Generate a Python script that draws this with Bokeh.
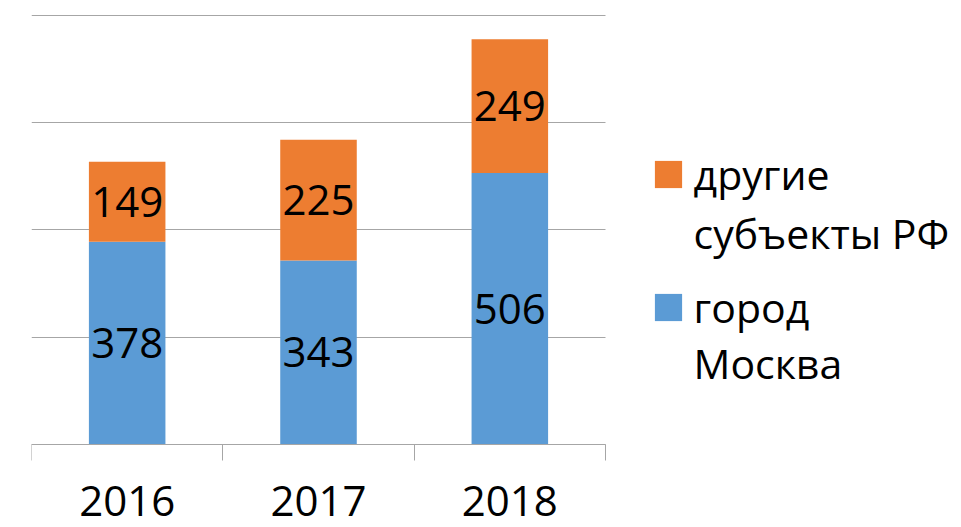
from bokeh.plotting import figure
from bokeh.models import (ColumnDataSource, FixedTicker, Legend, LegendItem,
                          LabelSet, Label, Range1d)
from bokeh.core.properties import value
from bokeh.embed import file_html
from bokeh.resources import INLINE

# ---- data ----
years = ["2016", "2017", "2018"]
moscow = [378, 343, 506]
other = [149, 225, 249]
series_first = ["другие", "город"]
series_second = ["субъекты РФ", "Москва"]
y_ticks = [0, 200, 400, 600, 800]

BLUE = "#5B9BD5"
ORANGE = "#ED7D31"
GRID = "#A6A6A6"
FONT = "Open Sans"
FS = "42px"
LFS = "41px"

n = len(years)
x = [i + 0.5 for i in range(n)]
src = ColumnDataSource(dict(
    x=x, moscow=moscow, other=other,
    m_mid=[m / 2 for m in moscow],
    o_mid=[m + o / 2 for m, o in zip(moscow, other)],
    m_txt=[str(v) for v in moscow],
    o_txt=[str(v) for v in other],
))

# ---- layout (pixels) ----
W, H = 961, 527
left_border = 31
frame_w_data = 574          # width of the category area
frame_top = 10
y_top_px, y_zero_px = 14.7, 444.0
ppu = (y_zero_px - y_top_px) / 800.0
y_end = 800 + (y_top_px - frame_top) / ppu
y_start = -(H - y_zero_px) / ppu
x_end = n * (W - left_border) / frame_w_data

p = figure(width=W, height=H, output_backend="svg", toolbar_location=None,
           x_range=Range1d(0, x_end), y_range=Range1d(y_start, y_end),
           min_border_left=left_border, min_border_top=frame_top,
           min_border_right=0, min_border_bottom=0)
p.outline_line_color = None
p.background_fill_color = "white"

rs = p.vbar_stack(["moscow", "other"], x="x", width=0.4, color=[BLUE, ORANGE],
                  line_color=None, source=src)

for ycol, tcol in (("m_mid", "m_txt"), ("o_mid", "o_txt")):
    p.add_layout(LabelSet(x="x", y=ycol, text=tcol, source=src,
                          text_align="center", text_baseline="middle",
                          text_font=value(FONT), text_font_size=FS,
                          text_color="black"))

# y axis / grid
p.yaxis.visible = False
p.ygrid.ticker = FixedTicker(ticks=y_ticks)
p.ygrid.grid_line_color = GRID
p.ygrid.grid_line_width = 1
p.ygrid.cross_bounds = (0, n)
p.xgrid.visible = False

# x axis
xa = p.xaxis[0]
xa.fixed_location = 0
xa.bounds = (0, n)
xa.ticker = FixedTicker(ticks=x, minor_ticks=list(range(n + 1)))
xa.major_label_overrides = {xi: yr for xi, yr in zip(x, years)}
xa.major_tick_out = 0
xa.major_tick_in = 0
xa.minor_tick_out = 16
xa.minor_tick_in = 0
xa.minor_tick_line_color = GRID
xa.axis_line_color = GRID
xa.major_label_standoff = 25
xa.major_label_text_font = FONT
xa.major_label_text_font_size = FS
xa.major_label_text_color = "black"

# legend (first lines with glyphs) + second lines as labels
legend = Legend(items=[LegendItem(label=series_first[0], renderers=[rs[1]]),
                       LegendItem(label=series_first[1], renderers=[rs[0]])],
                location=(619.6, 192.5), orientation="vertical",
                border_line_color=None, background_fill_alpha=0,
                padding=0, margin=0, spacing=77,
                glyph_width=34, glyph_height=34, label_standoff=9,
                label_text_font=FONT, label_text_font_size=LFS,
                label_text_color="black")
p.add_layout(legend, "center")

for txt, yb in zip(series_second, (H - 247 + 15, H - 377 + 15)):
    p.add_layout(Label(x=662, y=yb, x_units="screen", y_units="screen",
                       text=txt, text_font=FONT, text_font_size=LFS,
                       text_baseline="alphabetic", text_align="left",
                       text_color="black"))

open("out.html", "w").write(file_html(p, INLINE))
